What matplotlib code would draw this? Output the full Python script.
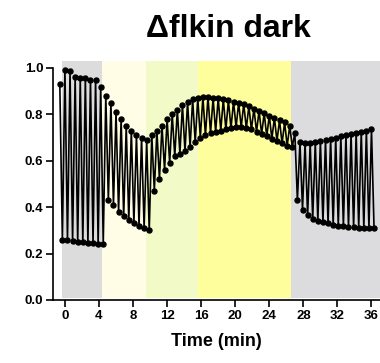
import matplotlib
matplotlib.use("Agg")
import matplotlib.pyplot as plt
import numpy as np

plt.rcParams['font.family'] = ['Liberation Sans', 'DejaVu Sans']
plt.rcParams['font.weight'] = 'bold'

title = "\u0394flkin dark"
xlabel = "Time (min)"
x_ticks = [0, 4, 8, 12, 16, 20, 24, 28, 32, 36]
y_ticks = [0.0, 0.2, 0.4, 0.6, 0.8, 1.0]

# pulse times (min)
pulse_time = [-0.6, 0.0, 0.6, 1.2, 1.8, 2.4, 3.0, 3.6, 4.2,
              4.8, 5.4, 6.0, 6.6, 7.2, 7.8, 8.4, 9.0, 9.6,
              10.2, 10.8, 11.4, 12.0, 12.6, 13.2, 13.8, 14.4, 15.0, 15.6,
              16.2, 16.8, 17.4, 18.0, 18.6, 19.2, 19.8, 20.4, 21.0, 21.6,
              22.2, 22.8, 23.4, 24.0, 24.6, 25.2, 25.8, 26.4,
              27.0, 27.6, 28.2, 28.8, 29.4, 30.0, 30.6, 31.2, 31.8, 32.4,
              33.0, 33.6, 34.2, 34.8, 35.4, 36.0]
low_delay = 0.3  # low reading follows each pulse

high_values = [0.93, 0.99, 0.985, 0.96, 0.955, 0.955, 0.95, 0.95, 0.92,
               0.88, 0.85, 0.81, 0.78, 0.75, 0.73, 0.71, 0.70, 0.69,
               0.71, 0.73, 0.75, 0.78, 0.80, 0.82, 0.84, 0.855, 0.865, 0.87,
               0.875, 0.875, 0.87, 0.87, 0.865, 0.86, 0.855, 0.85, 0.845, 0.835,
               0.825, 0.815, 0.805, 0.795, 0.785, 0.775, 0.765, 0.75,
               0.72, 0.68, 0.675, 0.675, 0.68, 0.685, 0.69, 0.695, 0.70, 0.705,
               0.71, 0.715, 0.72, 0.725, 0.73, 0.735]
low_values = [0.26, 0.26, 0.255, 0.25, 0.25, 0.245, 0.245, 0.24, 0.24,
              0.43, 0.41, 0.38, 0.36, 0.345, 0.33, 0.32, 0.31, 0.30,
              0.47, 0.52, 0.56, 0.59, 0.62, 0.63, 0.64, 0.66, 0.68, 0.70,
              0.71, 0.72, 0.725, 0.73, 0.735, 0.74, 0.745, 0.745, 0.74, 0.735,
              0.725, 0.715, 0.705, 0.695, 0.685, 0.675, 0.665, 0.66,
              0.43, 0.39, 0.365, 0.35, 0.34, 0.335, 0.33, 0.325, 0.32, 0.32,
              0.315, 0.315, 0.31, 0.31, 0.31, 0.31]

# light phases: (start, end, colour)
phase_start = [-0.4, 4.3, 9.5, 15.6, 26.5]
phase_end = [4.3, 9.5, 15.6, 26.5, 40.0]
phase_color = ['#dcdcdc', '#fffde6', '#f2fbc8', '#fffe9c', '#dcdcde']

fig = plt.figure(figsize=(3.8, 3.63), dpi=100)
ax = fig.add_axes([53/380, 63/363, 1 - 53/380, 239/363])

for s, e, c in zip(phase_start, phase_end, phase_color):
    ax.axvspan(s, e, ymin=0.01, ymax=1.0, color=c, lw=0, zorder=0)

t = []
v = []
for pt, hi, lo in zip(pulse_time, high_values, low_values):
    t += [pt, pt + low_delay]
    v += [hi, lo]
ax.plot(t, v, color='black', lw=1.2, marker='o', ms=3.6, mfc='black', mec='black', zorder=3)

ax.set_xlim(-1.4, 37.0)
ax.set_ylim(0, 1.03)
ax.set_xticks(x_ticks)
ax.set_yticks(y_ticks)
ax.set_yticklabels([f"{y:.1f}" for y in y_ticks])
for s in ['top', 'right']:
    ax.spines[s].set_visible(False)
ax.spines['left'].set_bounds(0, 1.0)
ax.spines['left'].set_linewidth(1.2)
ax.spines['bottom'].set_linewidth(1.2)
ax.tick_params(direction='out', length=5, width=1.2, labelsize=9.5, pad=2)
for lab in ax.get_xticklabels() + ax.get_yticklabels():
    lab.set_fontweight('bold')
ax.set_xlabel(xlabel, fontsize=13, fontweight='bold', labelpad=8)

fig.text(228/380, 1 - 37/363, title, ha='center', va='baseline', fontsize=23, fontweight='bold')

fig.savefig('out.png', dpi=100)
